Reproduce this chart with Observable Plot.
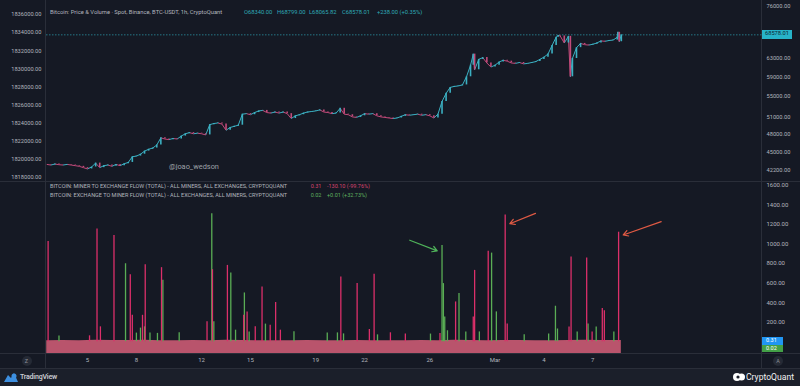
<!DOCTYPE html>
<html><head><meta charset="utf-8">
<script src="https://cdn.jsdelivr.net/npm/d3@7"></script>
<script src="https://cdn.jsdelivr.net/npm/@observablehq/plot@0.6"></script>
<style>
html,body{margin:0;padding:0;background:#151924;width:800px;height:386px;overflow:hidden;font-family:Roboto,"Noto Sans",sans-serif;}
#root{position:relative;width:800px;height:386px;}
.abs{position:absolute;white-space:nowrap;line-height:1;}
.ln{position:absolute;background:#2a2e39;}
svg{overflow:visible;}
</style></head><body><div id="root"></div>
<script>
// ---------- DATA ----------
// BTC-USDT closes, 6-hour steps starting 2024-02-02 12:00 UTC
const priceStart = "2024-02-02T12:00Z";
const priceCloses6h = [
  43100, 43000,
  43150, 43050, 43000, 43100,
  43000, 42900, 42800, 42600,
  42400, 42700, 43300, 42600,
  42900, 43000, 42800, 43100,
  42900, 43200, 43400, 44300,
  44400, 44700, 45200, 45500,
  45700, 46200, 47400, 47200,
  47100, 47300, 47200, 47700,
  48100, 48300, 48100, 48200,
  48100, 47900, 49700, 49900,
  50000, 49800, 48700, 49200,
  49400, 49600, 51600, 51700,
  51500, 51900, 52200, 52300,
  51900, 51800, 52000, 51800,
  52000, 51700, 50800, 51300,
  51500, 51800, 52000, 52100,
  52200, 52400, 52000, 51900,
  51700, 51800, 52700, 51600,
  51500, 51100, 51000, 51300,
  51700, 51600, 51700, 51300,
  51100, 51000, 50900, 50800,
  50900, 51200, 51500, 51400,
  51500, 51600, 51400, 51500,
  51300, 50900, 51600, 54000,
  55600, 56800, 57000, 57100,
  57300, 59000, 61500, 60500,
  62800, 63200, 62000, 61100,
  61500, 62200, 62600, 62400,
  62000, 61900, 62100, 61800,
  61900, 62100, 62300, 62800,
  63300, 64000, 66000, 68000,
  68300, 66600, 68200, 63000,
  65500, 66500, 66200, 66100,
  66300, 66600, 67100, 67000,
  67200, 67300, 68000, 68578.01
];
// intra-period extremes visible as wicks
const priceExtremes = [
  ["2024-02-28T16:00Z", 64000],
  ["2024-03-04T21:00Z", 68400],
  ["2024-03-05T15:00Z", 59000],
  ["2024-03-08T13:00Z", 69200],
  ["2024-03-08T15:00Z", 66900]
];
const lastClose = 68578.01;
const priceTicks = [42200, 45000, 48000, 51000, 55000, 59000, 63000, 76000];
const leftTicks = [1818000, 1820000, 1822000, 1824000, 1826000, 1828000, 1830000, 1832000, 1834000, 1836000];

// Miner -> Exchange flow spikes (BTC)
const minerToExchange = [
  ["2024-02-02T14:00Z", 1026], ["2024-02-05T03:00Z", 60], ["2024-02-05T14:00Z", 1155],
  ["2024-02-05T19:00Z", 152], ["2024-02-06T15:00Z", 1087], ["2024-02-07T15:00Z", 686],
  ["2024-02-07T18:00Z", 270], ["2024-02-08T09:00Z", 270], ["2024-02-08T13:00Z", 788],
  ["2024-02-09T13:00Z", 758], ["2024-02-12T08:00Z", 203], ["2024-02-12T16:00Z", 737],
  ["2024-02-13T14:00Z", 781], ["2024-02-14T14:00Z", 271], ["2024-02-14T19:00Z", 305],
  ["2024-02-15T07:00Z", 152], ["2024-02-15T17:00Z", 560], ["2024-02-16T05:00Z", 169],
  ["2024-02-16T13:00Z", 401], ["2024-02-16T20:00Z", 118], ["2024-02-20T13:00Z", 662],
  ["2024-02-21T13:00Z", 595], ["2024-02-22T07:00Z", 125], ["2024-02-22T14:00Z", 690],
  ["2024-02-23T14:00Z", 91], ["2024-02-24T12:00Z", 78], ["2024-02-26T15:00Z", 85],
  ["2024-02-27T14:00Z", 407], ["2024-02-28T16:00Z", 254], ["2024-02-28T18:00Z", 730],
  ["2024-02-29T14:00Z", 927], ["2024-03-01T15:00Z", 1298], ["2024-03-01T18:00Z", 180],
  ["2024-03-05T13:00Z", 150], ["2024-03-05T16:00Z", 866], ["2024-03-06T15:00Z", 856],
  ["2024-03-06T23:00Z", 100], ["2024-03-07T14:00Z", 340], ["2024-03-07T17:00Z", 316],
  ["2024-03-08T14:00Z", 1121]
];
// Exchange -> Miner flow spikes (BTC)
const exchangeToMiner = [
  ["2024-02-03T06:00Z", 57], ["2024-02-07T08:00Z", 798], ["2024-02-08T00:00Z", 88],
  ["2024-02-08T06:00Z", 139], ["2024-02-08T12:00Z", 152], ["2024-02-08T20:00Z", 88],
  ["2024-02-09T07:00Z", 85], ["2024-02-09T15:00Z", 628], ["2024-02-10T15:00Z", 91],
  ["2024-02-12T15:00Z", 1309], ["2024-02-12T18:00Z", 203], ["2024-02-13T19:00Z", 703],
  ["2024-02-14T02:00Z", 118], ["2024-02-14T15:00Z", 499], ["2024-02-14T22:00Z", 100],
  ["2024-02-15T22:00Z", 180], ["2024-02-17T16:00Z", 101], ["2024-02-19T17:00Z", 90],
  ["2024-02-20T08:00Z", 90], ["2024-02-20T17:00Z", 80], ["2024-02-22T19:00Z", 70],
  ["2024-02-26T01:00Z", 78], ["2024-02-26T18:00Z", 985], ["2024-02-26T20:00Z", 595],
  ["2024-02-26T22:00Z", 254], ["2024-02-27T02:00Z", 112], ["2024-02-27T19:00Z", 493],
  ["2024-02-28T05:00Z", 100], ["2024-02-29T01:00Z", 100], ["2024-02-29T19:00Z", 907],
  ["2024-03-01T02:00Z", 305], ["2024-03-02T19:00Z", 70], ["2024-03-04T07:00Z", 78],
  ["2024-03-04T17:00Z", 363], ["2024-03-04T20:00Z", 130], ["2024-03-06T01:00Z", 100],
  ["2024-03-06T17:00Z", 180], ["2024-03-07T05:00Z", 150], ["2024-03-08T07:00Z", 100]
];
// typical low level of the miner flow, daily from 2024-02-02 12:00 UTC
const minerBaseDaily = [10, 12, 9, 14, 11, 12, 14, 10, 9, 12, 10, 14, 12, 10, 9, 10, 12, 9, 10, 12,
  10, 9, 10, 12, 10, 14, 12, 10, 13, 12, 10, 9, 12, 14, 12, 11];
const flowTicks = [200, 400, 600, 800, 1000, 1200, 1400, 1600];

const xTickDates = ["2024-02-05", "2024-02-08", "2024-02-12", "2024-02-15", "2024-02-19",
  "2024-02-22", "2024-02-26", "2024-03-01", "2024-03-04", "2024-03-07"];
const xTickLabels = ["5", "8", "12", "15", "19", "22", "26", "Mar", "4", "7"];

// annotation arrows [fromTime, fromValue, toTime, toValue]
const greenArrows = [["2024-02-24T18:30Z", 1039, "2024-02-26T11:00Z", 930]];
const redArrows = [
  ["2024-03-03T11:36Z", 1314, "2024-03-01T21:48Z", 1208],
  ["2024-03-11T04:42Z", 1229, "2024-03-08T20:48Z", 1093]
];

// ---------- STYLE ----------
const BG = "#151924", TXT = "#b2b5be", UP = "#3bb0c2", DOWN = "#c24a7a";
const PINK = "#dc2f6a", GREEN = "#5aad55", BAND = "#b9546c";
const FONT = "Roboto, 'Noto Sans', sans-serif";
const xDomain = [new Date("2024-02-02T11:38Z"), new Date("2024-03-17T09:52Z")];
const priceDomain = [40390, 77560];
const leftDomain = [1817448, 1837546];
const flowDomain = [-121, 1630];

const root = document.getElementById("root");
function place(node, x, y) { node.style.position = "absolute"; node.style.left = x + "px"; node.style.top = y + "px"; root.appendChild(node); return node; }
function label(text, x, yc, size, color, extra = {}) {
  const d = document.createElement("div"); d.className = "abs"; d.textContent = text;
  d.style.left = x + "px"; d.style.top = (yc - size * 0.55) + "px"; d.style.fontSize = size + "px"; d.style.color = color;
  Object.assign(d.style, extra); root.appendChild(d); return d;
}
function line(x, y, w, h, color) { const d = document.createElement("div"); d.className = "ln"; Object.assign(d.style, {left: x + "px", top: y + "px", width: w + "px", height: h + "px"}); if (color) d.style.background = color; root.appendChild(d); }

// footer + separators
line(0, 368, 800, 18, "#1b1f2a");
line(45, 0, 1, 368); line(761, 0, 1, 368);
line(0, 181, 800, 1); line(0, 353, 800, 1); line(0, 368, 800, 1);

// ---------- PRICE PANE ----------
const t0 = +new Date(priceStart);
const priceData = priceCloses6h.map((c, i) => ({t: new Date(t0 + i * 6 * 3600e3), p: c}))
  .concat(priceExtremes.map(([t, p]) => ({t: new Date(t), p})))
  .sort((a, b) => a.t - b.t);
const segs = d3.pairs(priceData).map(([a, b]) => ({t1: a.t, p1: a.p, t2: b.t, p2: b.p, up: b.p >= a.p}));

const axisStyle = {background: "transparent", color: TXT, fontSize: "5.7px", fontFamily: FONT, overflow: "visible"};
const pricePlot = Plot.plot({
  width: 800, height: 182, marginLeft: 46, marginRight: 38, marginTop: 0, marginBottom: 0,
  style: axisStyle,
  x: {type: "utc", domain: xDomain, axis: null},
  y: {type: "log", domain: priceDomain, axis: "right", ticks: priceTicks, tickFormat: d => d.toFixed(2), tickSize: 0, tickPadding: 4, label: null},
  marks: [
    Plot.ruleY([lastClose], {stroke: "#2a8fa0", strokeDasharray: "1.5,1.5", strokeWidth: 0.8}),
    Plot.link(segs, {x1: "t1", y1: "p1", x2: "t2", y2: "p2", stroke: d => d.up ? UP : DOWN, strokeWidth: 1}),
    Plot.ruleX(segs, {x: "t2", y1: "p1", y2: "p2", stroke: d => d.up ? UP : DOWN, strokeWidth: 1.6})
  ]
});
place(pricePlot, 0, 0);

const leftPlot = Plot.plot({
  width: 800, height: 182, marginLeft: 46, marginRight: 38, marginTop: 0, marginBottom: 0,
  style: axisStyle,
  x: {type: "utc", domain: xDomain, axis: null},
  y: {domain: leftDomain, axis: "left", ticks: leftTicks, tickFormat: d => d.toFixed(2), tickSize: 0, tickPadding: 5, label: null},
  marks: []
});
place(leftPlot, 0, 0);

// last price box
const yLast = pricePlot.scale("y").apply(lastClose);
label(lastClose.toFixed(2), 762, yLast, 5.7, "#0d2730", {background: "#27b3c9", padding: "1.6px 3px", top: (yLast - 4.6) + "px"});

// legend top
label("Bitcoin: Price & Volume · Spot, Binance, BTC-USDT, 1h, CryptoQuant", 50, 13.3, 5.8, TXT);
const ohlc = [["O68340.00", 244], ["H68799.00", 277], ["L68065.82", 309], ["C68578.01", 342], ["+238.00 (+0.35%)", 377]];
ohlc.forEach(([s, x]) => label(s, x, 13.3, 5.8, "#2fa9b6"));
label("@joao_wedson", 169, 166.7, 7.4, "#9da0a8");

// ---------- FLOW PANE ----------
const parse = a => a.map(([t, v]) => ({t: new Date(t), v}));
const m2e = parse(minerToExchange), e2m = parse(exchangeToMiner);
const seriesEnd = priceData[priceData.length - 1].t;
const baseData = minerBaseDaily.map((v, i) => ({t: new Date(t0 + i * 24 * 3600e3), v}));
baseData.push({t: seriesEnd, v: minerBaseDaily[minerBaseDaily.length - 1]});
const arrowsG = greenArrows.map(([a, b, c, d]) => ({x1: new Date(a), y1: b, x2: new Date(c), y2: d}));
const arrowsR = redArrows.map(([a, b, c, d]) => ({x1: new Date(a), y1: b, x2: new Date(c), y2: d}));

const flowPlot = Plot.plot({
  width: 800, height: 186, marginLeft: 46, marginRight: 38, marginTop: 0, marginBottom: 15,
  style: {...axisStyle, fontSize: "6px"},
  x: {type: "utc", domain: xDomain, ticks: xTickDates.map(s => new Date(s + "T00:00Z")),
      tickFormat: d => xTickLabels[xTickDates.findIndex(s => +new Date(s + "T00:00Z") === +d)], tickSize: 0, tickPadding: 4, label: null},
  y: {domain: flowDomain, axis: "right", ticks: flowTicks, tickFormat: d => d.toFixed(2), tickSize: 0, tickPadding: 4, label: null},
  marks: [
    Plot.areaY(baseData, {x: "t", y1: flowDomain[0], y2: "v", fill: BAND}),
    Plot.ruleX(e2m, {x: "t", y1: 0, y2: "v", stroke: GREEN, strokeWidth: 1.3}),
    Plot.ruleX(m2e, {x: "t", y1: 0, y2: "v", stroke: PINK, strokeWidth: 1.3}),
    Plot.arrow(arrowsG, {x1: "x1", y1: "y1", x2: "x2", y2: "y2", stroke: "#4fb35a", strokeWidth: 1.2, headLength: 7}),
    Plot.arrow(arrowsR, {x1: "x1", y1: "y1", x2: "x2", y2: "y2", stroke: "#e05a44", strokeWidth: 1.2, headLength: 7})
  ]
});
place(flowPlot, 0, 182);

// flow legend
label("BITCOIN: MINER TO EXCHANGE FLOW (TOTAL) - ALL MINERS, ALL EXCHANGES, CRYPTOQUANT", 50, 186.7, 5.5, TXT);
label("0.31", 310.7, 186.7, 5.5, "#d9436e"); label("-130.10 (-99.76%)", 327, 186.7, 5.5, "#d9436e");
label("BITCOIN: EXCHANGE TO MINER FLOW (TOTAL) - ALL EXCHANGES, ALL MINERS, CRYPTOQUANT", 50, 196, 5.5, TXT);
label("0.02", 310.7, 196, 5.5, "#5fb15f"); label("+0.01 (+32.73%)", 327, 196, 5.5, "#5fb15f");

// value boxes at right of flow pane
const yFlow = 182 + flowPlot.scale("y").apply(0.31);
label("0.31", 762, yFlow, 5.5, "#ffffff", {background: "#2196f3", padding: "1px 4px", width: "13px", top: (yFlow - 3.8) + "px"});
label("0.02", 762, yFlow + 7.4, 5.5, "#ffffff", {background: "#43a047", padding: "1px 4px", width: "13px", top: (yFlow + 3.6) + "px"});

// corner buttons
label("Z", 23, 361, 5.5, "#8a8d96", {background: "#252a35", borderRadius: "50%", width: "10px", height: "10px", lineHeight: "10px", textAlign: "center", top: "356px", left: "21.5px"});
label("A", 773, 361, 5.5, "#8a8d96", {background: "#252a35", borderRadius: "50%", width: "10px", height: "10px", lineHeight: "10px", textAlign: "center", top: "356px", left: "773px"});

// footer logos
const ns = "http://www.w3.org/2000/svg";
const tvLogo = document.createElementNS(ns, "svg");
tvLogo.setAttribute("width", "14"); tvLogo.setAttribute("height", "10");
tvLogo.innerHTML = '<path d="M0 10 L4 3 L7 6 L10 1 L14 10 Z" fill="#3d8fe0"/><circle cx="10" cy="4" r="2.5" fill="#3d8fe0"/>';
place(tvLogo, 4, 372);
label("TradingView", 20, 377.5, 7, "#c9cbd1", {fontWeight: "600", letterSpacing: "-0.2px"});
const cqLogo = document.createElementNS(ns, "svg");
cqLogo.setAttribute("width", "12"); cqLogo.setAttribute("height", "10");
cqLogo.innerHTML = '<circle cx="4" cy="5" r="4" fill="#ffffff"/><circle cx="8.5" cy="5" r="3.5" fill="#ffffff"/><circle cx="5" cy="5" r="1.6" fill="#1b1f2a"/>';
place(cqLogo, 733, 372);
label("CryptoQuant", 746, 377.5, 8.6, "#f2f2f2");
</script></body></html>
